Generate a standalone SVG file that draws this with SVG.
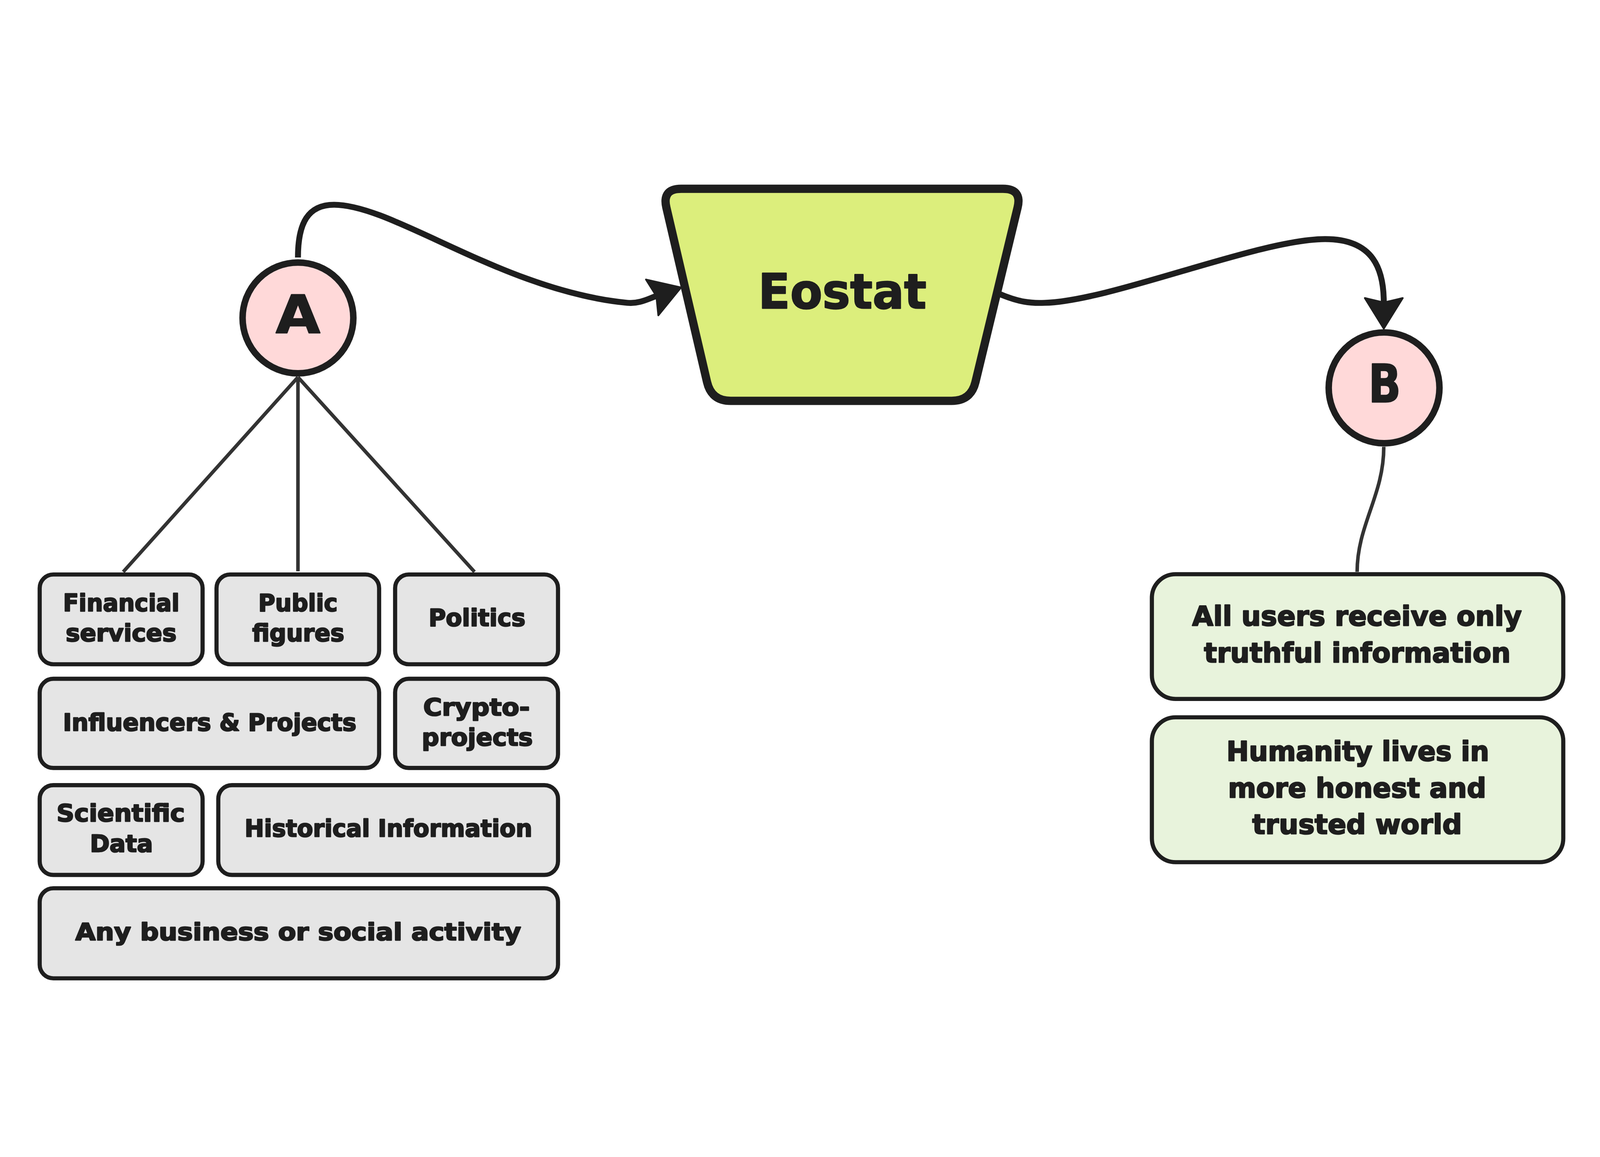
<svg xmlns="http://www.w3.org/2000/svg" width="5402" height="2961" viewBox="0 0 5402 2961" style="width:100vw;height:100vh;display:block">
<defs>
<style>
.t{font-family:"DejaVu Sans","Liberation Sans",sans-serif;font-weight:700;fill:#1e1e1e;stroke:#1e1e1e;stroke-width:4;stroke-linejoin:round;text-anchor:middle}
.s{font-size:80px}
.m{font-size:92px}
.gbox{fill:#e5e5e5;stroke:#1e1e1e;stroke-width:14}
.lbox{fill:#e8f3dc;stroke:#1e1e1e;stroke-width:14}
.circ{fill:#ffd9d9;stroke:#1e1e1e;stroke-width:22}
.arrow{fill:none;stroke:#1e1e1e;stroke-width:20}
.thin{fill:none;stroke:#333333;stroke-width:12}
</style>
<marker id="ah" markerUnits="userSpaceOnUse" orient="auto" markerWidth="10" markerHeight="10" refX="0" refY="0" overflow="visible">
<path d="M88,0 L-15,-64 L0,0 L-15,64 Z" fill="#1e1e1e" stroke="#1e1e1e" stroke-width="6" stroke-linejoin="round"/>
</marker>
</defs>
<rect x="0" y="0" width="5402" height="2961" fill="#ffffff"/>

<g id="connectors">
<path class="arrow" d="M1006,397 C1006,280 1040,219 1128,219 C1330,219 1700,510 2118,550 C2158,554 2187,537 2216,527" marker-end="url(#ah)"/>
<path class="arrow" d="M3372,519 C3440,548 3480,552 3527,550 C3750,545 4250,335 4474,335 C4640,335 4672,440 4672,549" marker-end="url(#ah)"/>
<path class="thin" d="M1006,801 L416,1458"/>
<path class="thin" d="M1006,801 L1006,1456"/>
<path class="thin" d="M1006,801 L1602,1458"/>
<path class="thin" d="M4672,1036 C4672,1200 4582,1300 4582,1458"/>
</g>

<g id="node-a">
<circle class="circ" cx="1006" cy="601" r="187"/>
<text class="t" x="1006" y="651" font-size="177" textLength="150" lengthAdjust="spacingAndGlyphs">A</text>
</g>

<g id="node-eostat">
<path d="M2300,165 L3386,165 Q3451,165 3435.7,228.2 L3293.3,817.8 Q3278,881 3213,881 L2467,881 Q2402,881 2387.2,817.7 L2249.8,228.3 Q2235,165 2300,165 Z" fill="#dcee7c" stroke="#1e1e1e" stroke-width="28" stroke-linejoin="round"/>
<text class="t" x="2844" y="568" font-size="162" textLength="568" lengthAdjust="spacingAndGlyphs">Eostat</text>
</g>

<g id="node-b">
<circle class="circ" cx="4673" cy="837" r="187"/>
<text class="t" x="4675" y="885" font-size="177" textLength="110" lengthAdjust="spacingAndGlyphs">B</text>
</g>

<g id="node-financial">
<rect class="gbox" x="134" y="1467" width="550" height="303" rx="46"/>
<text class="t s" x="409.5" y="1590" textLength="393" lengthAdjust="spacingAndGlyphs">Financial</text>
<text class="t s" x="409" y="1692" textLength="374" lengthAdjust="spacingAndGlyphs">services</text>
</g>

<g id="node-public">
<rect class="gbox" x="731" y="1467" width="549" height="303" rx="46"/>
<text class="t s" x="1006" y="1590" textLength="268" lengthAdjust="spacingAndGlyphs">Public</text>
<text class="t s" x="1007" y="1692" textLength="311" lengthAdjust="spacingAndGlyphs">figures</text>
</g>

<g id="node-politics">
<rect class="gbox" x="1334" y="1467" width="550" height="303" rx="46"/>
<text class="t s" x="1610.5" y="1641" textLength="327" lengthAdjust="spacingAndGlyphs">Politics</text>
</g>

<g id="node-influencers">
<rect class="gbox" x="134" y="1819" width="1146" height="301" rx="46"/>
<text class="t s" x="708" y="1994" textLength="991" lengthAdjust="spacingAndGlyphs">Influencers &amp; Projects</text>
</g>

<g id="node-crypto">
<rect class="gbox" x="1334" y="1819" width="550" height="301" rx="46"/>
<text class="t s" x="1609" y="1943" textLength="360" lengthAdjust="spacingAndGlyphs">Crypto-</text>
<text class="t s" x="1611.5" y="2044" textLength="375" lengthAdjust="spacingAndGlyphs">projects</text>
</g>

<g id="node-scientific">
<rect class="gbox" x="134" y="2178" width="550" height="303" rx="46"/>
<text class="t s" x="407.5" y="2300" textLength="433" lengthAdjust="spacingAndGlyphs">Scientific</text>
<text class="t s" x="410" y="2403" textLength="213" lengthAdjust="spacingAndGlyphs">Data</text>
</g>

<g id="node-historical">
<rect class="gbox" x="737" y="2178" width="1147" height="303" rx="46"/>
<text class="t s" x="1311.5" y="2352" textLength="971" lengthAdjust="spacingAndGlyphs">Historical Information</text>
</g>

<g id="node-any">
<rect class="gbox" x="134" y="2526" width="1750" height="304" rx="46"/>
<text class="t s" x="1007" y="2701" textLength="1505" lengthAdjust="spacingAndGlyphs">Any business or social activity</text>
</g>

<g id="node-truthful">
<rect class="lbox" x="3889" y="1466" width="1389" height="421" rx="80"/>
<text class="t m" x="4581.5" y="1640" textLength="1113" lengthAdjust="spacingAndGlyphs">All users receive only</text>
<text class="t m" x="4582.5" y="1764" textLength="1035" lengthAdjust="spacingAndGlyphs">truthful information</text>
</g>

<g id="node-humanity">
<rect class="lbox" x="3889" y="1949" width="1389" height="489" rx="80"/>
<text class="t m" x="4584.5" y="2096" textLength="887" lengthAdjust="spacingAndGlyphs">Humanity lives in</text>
<text class="t m" x="4582" y="2220" textLength="872" lengthAdjust="spacingAndGlyphs">more honest and</text>
<text class="t m" x="4582" y="2342" textLength="708" lengthAdjust="spacingAndGlyphs">trusted world</text>
</g>
</svg>
